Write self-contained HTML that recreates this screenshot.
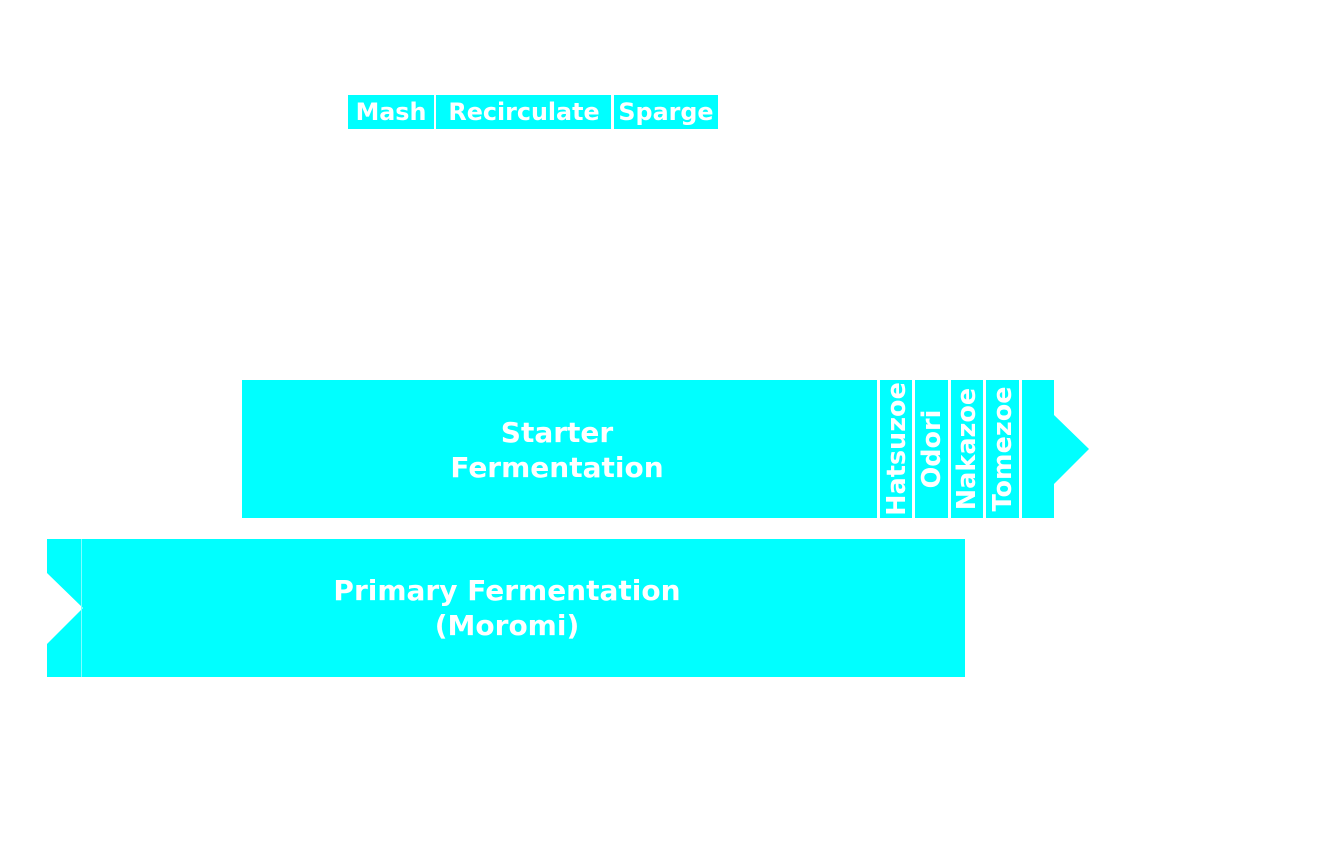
<!DOCTYPE html>
<html><head><meta charset="utf-8"><style>
html,body{margin:0;padding:0;background:#fff;width:1332px;height:858px;overflow:hidden}
text{font-family:"DejaVu Sans","Liberation Sans",sans-serif;font-weight:bold;fill:#fff}
</style></head><body>
<svg width="1332" height="858" viewBox="0 0 1332 858" xmlns="http://www.w3.org/2000/svg">
<g fill="#00ffff">
<rect x="348" y="95" width="86" height="34"/>
<rect x="436" y="95" width="175" height="34"/>
<rect x="614" y="95" width="104" height="34"/>
<rect x="242" y="380" width="635" height="138"/>
<rect x="880" y="380" width="32" height="138"/>
<rect x="915" y="380" width="33" height="138"/>
<rect x="951" y="380" width="32" height="138"/>
<rect x="986" y="380" width="33" height="138"/>
<rect x="1022" y="380" width="32" height="138"/>
<polygon points="1054,415 1089,449 1054,484"/>
<polygon points="47,539 965,539 965,677 47,677 47,644 83,608 47,573"/>
</g>
<line x1="81.5" y1="539" x2="81.5" y2="677" stroke="#80ffff" stroke-width="1"/>
<g font-size="23.8" text-anchor="middle">
<text x="391" y="120">Mash</text>
<text x="524" y="120">Recirculate</text>
<text x="666" y="120">Sparge</text>
</g>
<g font-size="28" text-anchor="middle">
<text x="557" y="442">Starter</text>
<text x="557" y="477">Fermentation</text>
<text x="507" y="600">Primary Fermentation</text>
<text x="507" y="635">(Moromi)</text>
</g>
<g font-size="25.5" text-anchor="middle">
<text transform="translate(905,449) rotate(-90)">Hatsuzoe</text>
<text transform="translate(940,449) rotate(-90)">Odori</text>
<text transform="translate(975,449) rotate(-90)">Nakazoe</text>
<text transform="translate(1011,449) rotate(-90)">Tomezoe</text>
</g>
</svg>
</body></html>
